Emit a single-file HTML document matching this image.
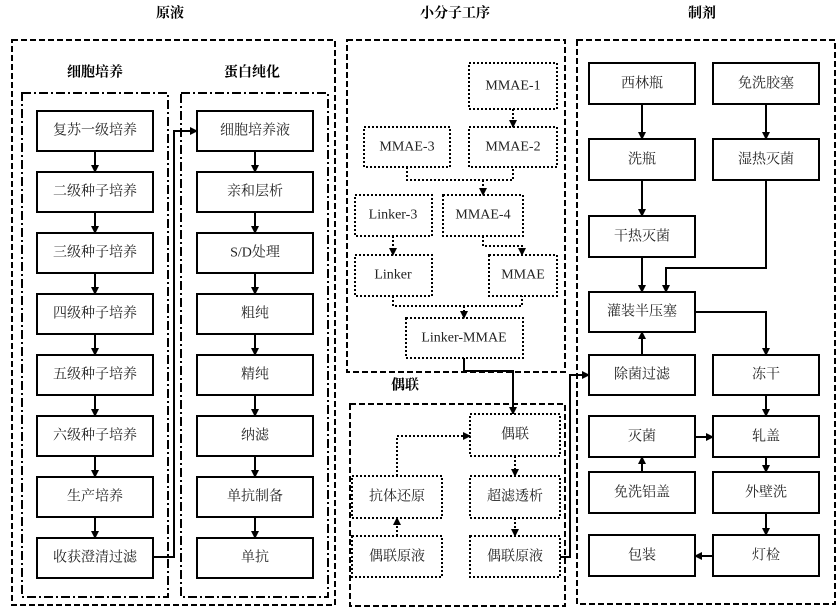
<!DOCTYPE html>
<html><head><meta charset="utf-8"><style>
body{margin:0;background:#fff}
svg{display:block}
text{font-family:"Liberation Serif","Noto Serif CJK SC",serif;font-size:14px;fill:#222;text-anchor:middle;dominant-baseline:central}
.t{font-weight:bold;fill:#000}
.s{fill:#fff;stroke:#000;stroke-width:2}
.d{fill:#fff;stroke:#000;stroke-width:2;stroke-dasharray:2 2}
.l{fill:none;stroke:#000;stroke-width:2}
.ld{fill:none;stroke:#000;stroke-width:2;stroke-dasharray:2 2}
</style></head><body>
<svg width="840" height="616" viewBox="0 0 840 616">
<defs><marker id="a" markerWidth="8" markerHeight="8" refX="7" refY="4" orient="auto" markerUnits="userSpaceOnUse"><path d="M0,0 L8,4 L0,8z" fill="#000"/></marker></defs>
<rect width="840" height="616" fill="#fff"/>
<text x="170" y="14" class="t">原液</text>
<text x="455" y="14" class="t">小分子工序</text>
<text x="702" y="14" class="t">制剂</text>
<text x="95" y="73" class="t">细胞培养</text>
<text x="252" y="73" class="t">蛋白纯化</text>
<text x="405" y="386" class="t">偶联</text>
<rect x="12" y="40" width="323" height="565" fill="none" stroke="#000" stroke-width="2" stroke-dasharray="6 3"/>
<rect x="22" y="93" width="146" height="504" fill="none" stroke="#000" stroke-width="2" stroke-dasharray="9 3 2 3"/>
<rect x="181" y="93" width="147" height="504" fill="none" stroke="#000" stroke-width="2" stroke-dasharray="9 3 2 3"/>
<rect x="347" y="40" width="218" height="332" fill="none" stroke="#000" stroke-width="2" stroke-dasharray="6 3"/>
<rect x="350" y="404" width="215" height="202" fill="none" stroke="#000" stroke-width="2" stroke-dasharray="6 3"/>
<rect x="577" y="40" width="258" height="564" fill="none" stroke="#000" stroke-width="2" stroke-dasharray="6 3"/>
<g>
<rect class="s" x="37" y="111" width="116" height="40"/><text x="95" y="131">复苏一级培养</text>
<rect class="s" x="37" y="172" width="116" height="40"/><text x="95" y="192">二级种子培养</text>
<rect class="s" x="37" y="233" width="116" height="40"/><text x="95" y="253">三级种子培养</text>
<rect class="s" x="37" y="294" width="116" height="40"/><text x="95" y="314">四级种子培养</text>
<rect class="s" x="37" y="355" width="116" height="40"/><text x="95" y="375">五级种子培养</text>
<rect class="s" x="37" y="416" width="116" height="40"/><text x="95" y="436">六级种子培养</text>
<rect class="s" x="37" y="477" width="116" height="40"/><text x="95" y="497">生产培养</text>
<rect class="s" x="37" y="538" width="116" height="40"/><text x="95" y="558">收获澄清过滤</text>
<rect class="s" x="197" y="111" width="116" height="40"/><text x="255" y="131">细胞培养液</text>
<rect class="s" x="197" y="172" width="116" height="40"/><text x="255" y="192">亲和层析</text>
<rect class="s" x="197" y="233" width="116" height="40"/><text x="255" y="253">S/D处理</text>
<rect class="s" x="197" y="294" width="116" height="40"/><text x="255" y="314">粗纯</text>
<rect class="s" x="197" y="355" width="116" height="40"/><text x="255" y="375">精纯</text>
<rect class="s" x="197" y="416" width="116" height="40"/><text x="255" y="436">纳滤</text>
<rect class="s" x="197" y="477" width="116" height="40"/><text x="255" y="497">单抗制备</text>
<rect class="s" x="197" y="538" width="116" height="40"/><text x="255" y="558">单抗</text>
</g>
<g marker-end="url(#a)">
<path class="l" d="M95 151V172"/><path class="l" d="M95 212V233"/><path class="l" d="M95 273V294"/><path class="l" d="M95 334V355"/><path class="l" d="M95 395V416"/><path class="l" d="M95 456V477"/><path class="l" d="M95 517V538"/>
<path class="l" d="M255 151V172"/><path class="l" d="M255 212V233"/><path class="l" d="M255 273V294"/><path class="l" d="M255 334V355"/><path class="l" d="M255 395V416"/><path class="l" d="M255 456V477"/><path class="l" d="M255 517V538"/>
<path class="l" d="M153 557H174V131H197"/>
</g>
<rect class="d" x="469" y="63" width="88" height="46"/><text x="513" y="86">MMAE-1</text>
<rect class="d" x="364" y="127" width="86" height="40"/><text x="407" y="147">MMAE-3</text>
<rect class="d" x="469" y="127" width="88" height="40"/><text x="513" y="147">MMAE-2</text>
<rect class="d" x="355" y="195" width="77" height="41"/><text x="393" y="215">Linker-3</text>
<rect class="d" x="443" y="195" width="80" height="41"/><text x="483" y="215">MMAE-4</text>
<rect class="d" x="355" y="255" width="77" height="41"/><text x="393" y="275">Linker</text>
<rect class="d" x="489" y="255" width="68" height="41"/><text x="523" y="275">MMAE</text>
<rect class="d" x="406" y="318" width="117" height="40"/><text x="464" y="338">Linker-MMAE</text>
<path class="ld" d="M407 167V180H513V167"/>
<path class="ld" d="M393 296V306H522V296"/>
<g marker-end="url(#a)">
<path class="ld" d="M513 109V127"/>
<path class="ld" d="M483 180V195"/>
<path class="ld" d="M393 236V255"/>
<path class="ld" d="M483 236V246H522V255"/>
<path class="ld" d="M464 306V318"/>
<path class="l" d="M464 358V371H513V414"/>
</g>
<rect class="d" x="470" y="414" width="90" height="42"/><text x="515" y="435">偶联</text>
<rect class="d" x="352" y="476" width="90" height="42"/><text x="397" y="497">抗体还原</text>
<rect class="d" x="470" y="476" width="90" height="42"/><text x="515" y="497">超滤透析</text>
<rect class="d" x="352" y="536" width="90" height="41"/><text x="397" y="557">偶联原液</text>
<rect class="d" x="470" y="536" width="90" height="41"/><text x="515" y="557">偶联原液</text>
<g marker-end="url(#a)">
<path class="ld" d="M397 536V518"/>
<path class="ld" d="M397 476V436H470"/>
<path class="ld" d="M515 456V476"/>
<path class="ld" d="M515 518V536"/>
<path class="l" d="M560 557H570V375H589"/>
</g>
<rect class="s" x="589" y="63" width="106" height="41"/><text x="642" y="84">西林瓶</text>
<rect class="s" x="713" y="63" width="106" height="41"/><text x="766" y="84">免洗胶塞</text>
<rect class="s" x="589" y="139" width="106" height="41"/><text x="642" y="160">洗瓶</text>
<rect class="s" x="713" y="139" width="106" height="41"/><text x="766" y="160">湿热灭菌</text>
<rect class="s" x="589" y="216" width="106" height="41"/><text x="642" y="237">干热灭菌</text>
<rect class="s" x="589" y="292" width="106" height="40"/><text x="642" y="312">灌装半压塞</text>
<rect class="s" x="589" y="355" width="106" height="40"/><text x="642" y="375">除菌过滤</text>
<rect class="s" x="713" y="355" width="106" height="40"/><text x="766" y="375">冻干</text>
<rect class="s" x="589" y="416" width="106" height="41"/><text x="642" y="437">灭菌</text>
<rect class="s" x="713" y="416" width="106" height="41"/><text x="766" y="437">轧盖</text>
<rect class="s" x="589" y="472" width="106" height="41"/><text x="642" y="493">免洗铝盖</text>
<rect class="s" x="713" y="472" width="106" height="41"/><text x="766" y="493">外壁洗</text>
<rect class="s" x="589" y="535" width="106" height="41"/><text x="642" y="556">包装</text>
<rect class="s" x="713" y="535" width="106" height="41"/><text x="766" y="556">灯检</text>
<g marker-end="url(#a)">
<path class="l" d="M642 104V139"/><path class="l" d="M766 104V139"/>
<path class="l" d="M642 180V216"/><path class="l" d="M642 257V292"/>
<path class="l" d="M766 180V268H666V292"/>
<path class="l" d="M695 312H766V355"/>
<path class="l" d="M642 355V332"/>
<path class="l" d="M766 395V416"/>
<path class="l" d="M695 437H713"/>
<path class="l" d="M642 472V457"/>
<path class="l" d="M766 457V472"/>
<path class="l" d="M766 513V535"/>
<path class="l" d="M713 556H695"/>
</g>
</svg>
</body></html>
